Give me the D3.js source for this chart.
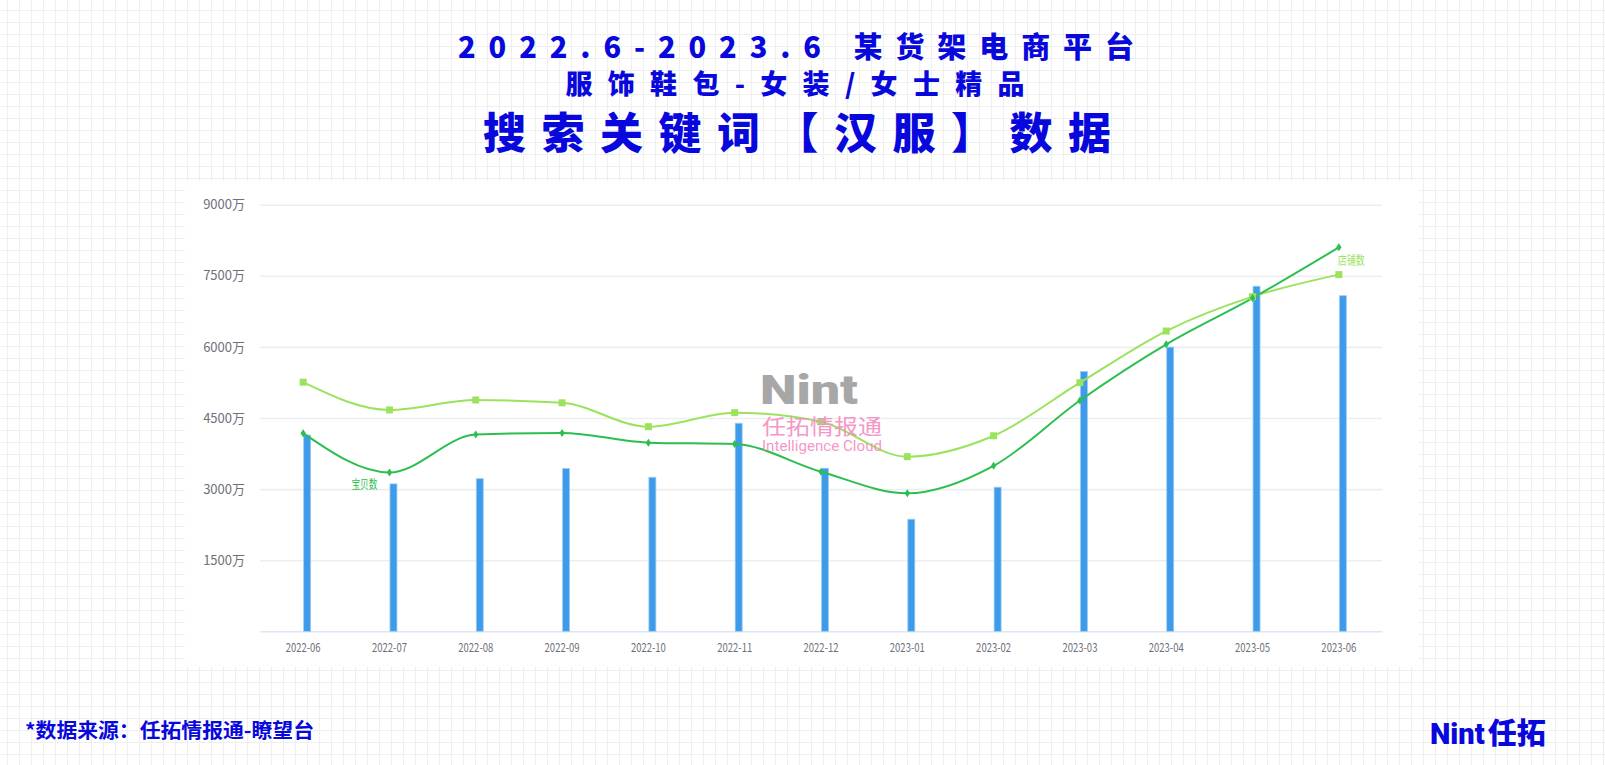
<!DOCTYPE html>
<html><head><meta charset="utf-8">
<script src="https://cdn.jsdelivr.net/npm/d3@7"></script>
<style>body{margin:0;background:#fff}svg{display:block}</style>
</head><body><svg id="c" width="1605" height="765"></svg>
<script>
// ---- data ----
const categories = ["2022-06","2022-07","2022-08","2022-09","2022-10","2022-11","2022-12","2023-01","2023-02","2023-03","2023-04","2023-05","2023-06"];
const barValues   = [4140, 3110, 3220, 3435, 3250, 4390, 3440, 2365, 3040, 5480, 5995, 7280, 7080];
const itemCounts  = [4180, 3350, 4150, 4185, 3980, 3950, 3367, 2911, 3490, 4870, 6055, 7030, 8100]; // 宝贝数
const storeCounts = [5255, 4670, 4880, 4820, 4316, 4612, 4420, 3684, 4125, 5245, 6335, 7060, 7525]; // 店铺数
const yTicks = [1500, 3000, 4500, 6000, 7500, 9000];
const yMax = 9000;
const titleLines = ["2022.6-2023.6 某货架电商平台", "服饰鞋包-女装/女士精品", "搜索关键词【汉服】数据"];
const itemLabel = "宝贝数", storeLabel = "店铺数";
const sourceText = "*数据来源：任拓情报通-瞭望台";

// ---- setup ----
const W = 1605, H = 765;
const svg = d3.select("#c");
const cjk = "'Noto Sans CJK SC','Noto Sans',sans-serif";
const blue = "#0808dc";

// background grid
const bg = svg.append("g");
bg.append("rect").attr("width", W).attr("height", H).attr("fill", "#fff");
bg.selectAll("line.v").data(d3.range(7.5, W, 12)).join("line")
  .attr("x1", d => d).attr("x2", d => d).attr("y1", 0).attr("y2", H)
  .attr("stroke", "#efefef").attr("stroke-width", 1.2);
bg.selectAll("line.h").data(d3.range(10.5, H, 12)).join("line")
  .attr("y1", d => d).attr("y2", d => d).attr("x1", 0).attr("x2", W)
  .attr("stroke", "#efefef").attr("stroke-width", 1.2);

// chart panel
svg.append("rect").attr("x", 185).attr("y", 181).attr("width", 1234).attr("height", 486).attr("fill", "#fff");

// titles
const tl = [
  {t: titleLines[0], x: 796, y: 58, fs: 29, len: 676},
  {t: titleLines[1], x: 795, y: 94, fs: 27, len: 459},
  {t: titleLines[2], x: 797, y: 149, fs: 43, len: 628}
];
svg.selectAll("text.title").data(tl).join("text").attr("class", "title")
  .attr("x", d => d.x - d.len / 2).attr("y", d => d.y)
  .attr("textLength", d => d.len).attr("lengthAdjust", "spacing")
  .attr("font-family", cjk).attr("font-weight", 900).attr("font-size", d => d.fs)
  .attr("fill", blue).text(d => d.t);

// scales
const left = 260, right = 1382, y0 = 631.3, yTop = 204.7;
const x = d3.scaleBand().domain(categories).range([left, right]);
const cx = c => x(c) + x.bandwidth() / 2;
const y = d3.scaleLinear().domain([0, yMax]).range([y0, yTop]);

// y axis + grid
const ya = svg.append("g").attr("transform", `translate(${left},0)`)
  .call(d3.axisLeft(y).tickValues(yTicks).tickSize(-(right - left)).tickPadding(15).tickFormat(d => d + "万"));
ya.select(".domain").remove();
ya.selectAll(".tick line").attr("stroke", "#eeeeee").attr("stroke-width", 1.6);
ya.selectAll(".tick text").attr("fill", "#6e7079").attr("font-size", 13).attr("font-family", cjk);

// x axis
const xa = svg.append("g").attr("transform", `translate(0,${y0})`)
  .call(d3.axisBottom(x).tickSize(0).tickPadding(12.5));
xa.select(".domain").attr("stroke", "#dfe4f3").attr("stroke-width", 1.6);
xa.selectAll(".tick text").attr("fill", "#6e7079").attr("font-size", 12).attr("font-family", cjk)
  .attr("textLength", 35).attr("lengthAdjust", "spacingAndGlyphs");

// bars
svg.append("g").selectAll("rect").data(categories).join("rect")
  .attr("x", (c) => cx(c) + 0.5).attr("width", 7)
  .attr("y", (c, i) => y(barValues[i])).attr("height", (c, i) => y0 - y(barValues[i]))
  .attr("fill", "#3d9be9").attr("stroke", "#9fcdf4").attr("stroke-width", 0.8);

// lines
const line = d3.line().x((d, i) => cx(categories[i])).y(d => y(d)).curve(d3.curveMonotoneX);
const lightGreen = "#9be35c", darkGreen = "#2cbf50";
svg.append("path").datum(storeCounts).attr("d", line).attr("fill", "none").attr("stroke", lightGreen).attr("stroke-width", 2);
svg.append("path").datum(itemCounts).attr("d", line).attr("fill", "none").attr("stroke", darkGreen).attr("stroke-width", 2);

// markers
svg.append("g").selectAll("rect").data(storeCounts).join("rect")
  .attr("x", (d, i) => cx(categories[i]) - 3.5).attr("y", d => y(d) - 3.5)
  .attr("width", 7).attr("height", 7).attr("fill", lightGreen);
svg.append("g").selectAll("path").data(itemCounts).join("path")
  .attr("transform", (d, i) => `translate(${cx(categories[i])},${y(d)})`)
  .attr("d", "M0,-4L2.7,0L0,4L-2.7,0Z").attr("fill", darkGreen);

// series labels
svg.append("text").attr("x", cx(categories[1]) - 25).attr("y", y(itemCounts[1]) + 16)
  .attr("text-anchor", "middle").attr("font-family", cjk).attr("font-size", 12)
  .attr("textLength", 26).attr("lengthAdjust", "spacingAndGlyphs")
  .attr("fill", darkGreen).text(itemLabel);
const li = categories.length - 1;
svg.append("text").attr("x", cx(categories[li]) - 1).attr("y", y(storeCounts[li]) - 10)
  .attr("font-family", cjk).attr("font-size", 12)
  .attr("textLength", 27).attr("lengthAdjust", "spacingAndGlyphs")
  .attr("fill", lightGreen).text(storeLabel);

// watermark
const wm = svg.append("g").attr("opacity", 0.9);
wm.append("text").attr("x", 760).attr("y", 404).attr("font-family", "Roboto,'Noto Sans',sans-serif")
  .attr("font-weight", 900).attr("font-size", 40).attr("textLength", 98).attr("lengthAdjust", "spacingAndGlyphs")
  .attr("fill", "#9e9e9e").text("Nint");
wm.append("text").attr("x", 762).attr("y", 434).attr("font-family", "'Noto Sans CJK SC',sans-serif")
  .attr("font-size", 21).attr("textLength", 120).attr("lengthAdjust", "spacingAndGlyphs")
  .attr("fill", "#f48dc2").text("任拓情报通");
wm.append("text").attr("x", 762).attr("y", 451).attr("font-family", "Roboto,'Noto Sans',sans-serif")
  .attr("font-size", 15).attr("textLength", 120).attr("lengthAdjust", "spacingAndGlyphs")
  .attr("fill", "#f48dc2").text("Intelligence Cloud");

// footer
svg.append("text").attr("x", 25).attr("y", 738).attr("font-family", cjk).attr("font-weight", 700)
  .attr("font-size", 20).attr("textLength", 289).attr("lengthAdjust", "spacingAndGlyphs")
  .attr("fill", blue).text(sourceText);
const logo = svg.append("text").attr("x", 1430).attr("y", 744).attr("font-family", cjk)
  .attr("font-weight", 900).attr("font-size", 29).attr("fill", blue);
logo.append("tspan").attr("font-family", "Roboto,'Noto Sans',sans-serif").text("Nint");
logo.append("tspan").attr("dx", 3).text("任拓");
</script>
</body></html>
